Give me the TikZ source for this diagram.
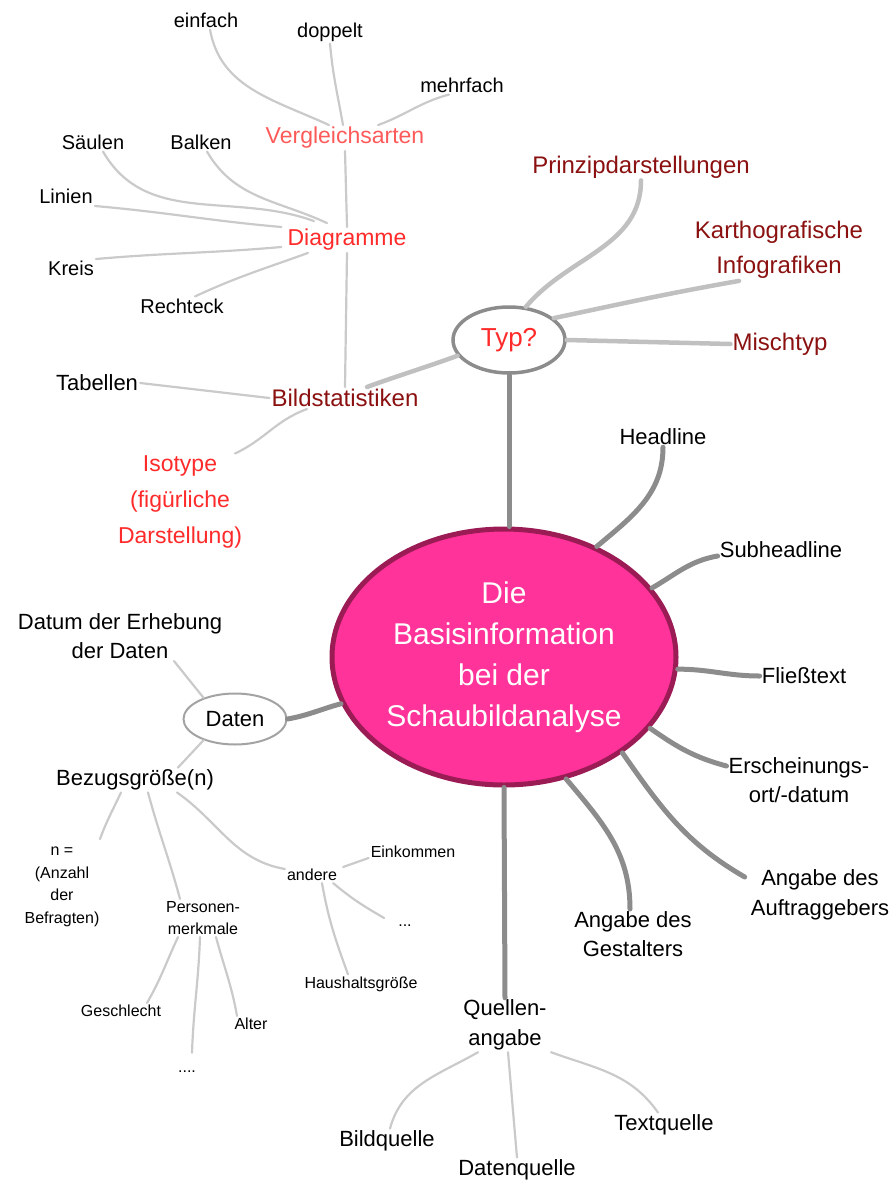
\documentclass[tikz,border=0pt]{standalone}
\usepackage{fontspec}
\setmainfont{Liberation Sans}
\usetikzlibrary{shapes.geometric}
\definecolor{dred}{HTML}{8B1111}
\definecolor{bred}{HTML}{FF2A2A}
\definecolor{lred}{HTML}{FF5A5A}
\definecolor{pinkf}{HTML}{FF3399}
\definecolor{pinkb}{HTML}{9B1B55}
\definecolor{gA}{HTML}{8C8C8C}
\definecolor{gB}{HTML}{C0C0C0}
\definecolor{gC}{HTML}{CACACA}
\begin{document}
\begin{tikzpicture}[x=1pt,y=1pt,
  lbl/.style={inner sep=2pt, align=center, text=black, font=\fontsize{22}{29.5}\selectfont},
  sm/.style={lbl, font=\fontsize{20}{25}\selectfont},
  xs/.style={lbl, font=\fontsize{16}{22.5}\selectfont},
  dots/.style={xs, text height=11pt, text depth=3pt},
  dredl/.style={lbl, text=dred, font=\fontsize{24}{35}\selectfont},
  redl/.style={lbl, text=bred, font=\fontsize{23}{36}\selectfont},
  lredl/.style={lbl, text=lred, font=\fontsize{23}{30}\selectfont},
  mainell/.style={ellipse, minimum width=344pt, minimum height=256pt, inner sep=0pt,
    fill=pinkf, draw=pinkb, line width=5pt, text=white, align=center,
    font=\fontsize{30}{41}\selectfont},
  typell/.style={ellipse, minimum width=112pt, minimum height=66pt, inner sep=0pt,
    fill=white, draw=gA, line width=3.5pt, text=bred, font=\fontsize{26}{30}\selectfont},
  datell/.style={ellipse, minimum width=103pt, minimum height=51pt, inner sep=0pt,
    fill=white, draw=gA!80, line width=2pt, text=black, font=\fontsize{22}{26}\selectfont},
  mainbr/.style={draw=gA, line width=5pt, line cap=round},
  typbr/.style={draw=gB, line width=4.5pt, line cap=round},
  twig/.style={draw=gC, line width=2.2pt, line cap=round},
]
\useasboundingbox (0,0) rectangle (890,-1186);

% ---------- connectors are drawn after nodes are defined (on background via order) ----------
% central nodes
\node[mainell] (main) at (504,-657) {Die\\Basisinformation\\bei der\\Schaubildanalyse};
\node[typell] (typ) at (509,-340) {Typ?};
\node[datell] (daten) at (235,-719) {Daten};

% right side
\node[lbl] (headline) at (663,-437) {Headline};
\node[lbl] (subhead) at (781,-550) {Subheadline};
\node[lbl] (fliess) at (804,-676) {Fließtext};
\node[lbl] (ersch) at (799,-780) {Erscheinungs-\\ort/-datum};
\node[lbl] (auftr) at (820,-895) {Angabe des\\Auftraggebers};
\node[lbl] (gestal) at (633,-934) {Angabe des\\Gestalters};
\node[lbl] (quellen) at (505,-1025) {Quellen-\\angabe};
\node[lbl] (bildq) at (387,-1141) {Bildquelle};
\node[lbl] (datenq) at (517,-1170) {Datenquelle};
\node[lbl] (textq) at (664,-1125) {Textquelle};

% top
\node[dredl] (prinzip) at (641,-167) {Prinzipdarstellungen};
\node[dredl] (karth) at (779,-250) {Karthografische\\Infografiken};
\node[dredl] (misch) at (780,-344) {Mischtyp};
\node[dredl] (bild) at (345,-398) {Bildstatistiken};
\node[lbl] (tab) at (97,-383) {Tabellen};
\node[redl] (iso) at (180,-502) {Isotype\\(figürliche\\Darstellung)};
\node[redl] (diag) at (347,-240) {Diagramme};
\node[lredl] (vergl) at (345,-138) {Vergleichsarten};
\node[sm] (einfach) at (206,-20) {einfach};
\node[sm] (doppelt) at (330,-32) {doppelt};
\node[sm] (mehr) at (462,-85) {mehrfach};
\node[sm] (saeulen) at (93,-142) {Säulen};
\node[sm] (balken) at (201,-142) {Balken};
\node[sm] (linien) at (66,-196) {Linien};
\node[sm] (kreis) at (71,-268) {Kreis};
\node[sm] (recht) at (182,-306) {Rechteck};

% bottom left
\node[lbl] (datum) at (120,-636) {Datum der Erhebung\\der Daten};
\node[lbl] (bezug) at (135,-780) {Bezugsgröße(n)};
\node[xs] (anz) at (62,-887) {n =\\(Anzahl\\der\\Befragten)};
\node[xs] (pers) at (203,-918) {Personen-\\merkmale};
\node[xs] (andere) at (312,-875) {andere};
\node[xs] (eink) at (413,-852) {Einkommen};
\node[dots] (dots1) at (405,-922) {...};
\node[xs] (haus) at (361,-984) {Haushaltsgröße};
\node[xs] (geschl) at (121,-1011) {Geschlecht};
\node[xs] (alter) at (251,-1024) {Alter};
\node[dots] (dots2) at (187,-1068) {....};

% ---------- main branches ----------
\draw[mainbr] (typ.south) -- (main.north -| typ.south);
\draw[mainbr] (main.50) to[out=40,in=-90] (headline.south);
\draw[mainbr] (main.25) to[out=30,in=190] ([yshift=-6]subhead.west);
\draw[mainbr] (main.-4) to[out=0,in=180] (fliess.west);
\draw[mainbr] (main.-26) to[out=-35,in=165] ([yshift=14]ersch.west);
\draw[mainbr] (main.-39) to[out=-55,in=150] ([xshift=-4,yshift=18]auftr.west);
\draw[mainbr] (main.-63) to[out=-50,in=90] ([xshift=-3]gestal.north);
\draw[mainbr] (main.south) -- (quellen.north);
\draw[mainbr] (main.196) to[out=195,in=10] (daten.east);

% ---------- Typ? branches ----------
\draw[typbr] (typ.63) to[out=50,in=-90] (prinzip.south);
\draw[typbr] (typ.26) to[out=12,in=190] ([xshift=-40]karth.south);
\draw[typbr] (typ.east) -- (misch.west);
\draw[typbr] (typ.197) to[out=200,in=20] ([xshift=22]bild.north);

% ---------- Bildstatistiken branches ----------
\draw[twig] (tab.east) -- (bild.west);
\draw[twig] ([xshift=-38]bild.south) to[out=200,in=25] ([xshift=55]iso.north);
\draw[twig] (bild.north) -- (diag.south);
\draw[twig] (diag.north) -- (vergl.south);

% ---------- Diagramme branches ----------
\draw[twig] ([xshift=10]saeulen.south) to[out=-60,in=160] ([xshift=-33,yshift=6]diag.north);
\draw[twig] ([xshift=6]balken.south) to[out=-60,in=155] ([xshift=-20,yshift=4]diag.north);
\draw[twig] ([yshift=-10]linien.east) to[out=-5,in=175] ([xshift=-4,yshift=13]diag.west);
\draw[twig] ([yshift=9]kreis.east) to[out=5,in=185] ([xshift=-4,yshift=-7]diag.west);
\draw[twig] ([xshift=13]recht.north) to[out=25,in=200] ([xshift=-39]diag.south);

% ---------- Vergleichsarten branches ----------
\draw[twig] ([xshift=4]einfach.south) to[out=-80,in=155] ([xshift=-16]vergl.north);
\draw[twig] (doppelt.south) to[out=-85,in=100] ([xshift=-2]vergl.north);
\draw[twig] ([xshift=-13]mehr.south) to[out=195,in=20] ([xshift=33]vergl.north);

% ---------- Daten branches ----------
\draw[twig] ([xshift=54]datum.south) -- (daten.146);
\draw[twig] (daten.214) -- ([xshift=43]bezug.north);

% ---------- Bezugsgroesse branches ----------
\draw[twig] ([xshift=-14]bezug.south) to[out=-115,in=70] ([xshift=38,yshift=6]anz.north);
\draw[twig] ([xshift=13]bezug.south) to[out=-75,in=105] ([xshift=-23]pers.north);
\draw[twig] ([xshift=42]bezug.south) to[out=-35,in=170] ([yshift=6]andere.west);

% ---------- Personenmerkmale branches ----------
\draw[twig] ([xshift=-25]pers.south) to[out=-115,in=60] ([xshift=26]geschl.north);
\draw[twig] ([xshift=-3]pers.south) to[out=-92,in=88] ([xshift=5,yshift=6]dots2.north);
\draw[twig] ([xshift=13]pers.south) to[out=-75,in=100] ([xshift=-14]alter.north);

% ---------- andere branches ----------
\draw[twig] ([xshift=4,yshift=8]andere.east) -- ([yshift=-6]eink.west);
\draw[twig] ([xshift=-6]andere.south east) to[out=-40,in=150] ([xshift=-12,yshift=4]dots1.west);
\draw[twig] ([xshift=10]andere.south) to[out=-80,in=110] ([xshift=-13]haus.north);

% ---------- Quellenangabe branches ----------
\draw[twig] ([xshift=-27]quellen.south) to[out=210,in=75] ([xshift=3]bildq.north);
\draw[twig] ([xshift=3]quellen.south) to[out=-85,in=95] (datenq.north);
\draw[twig] ([xshift=46]quellen.south) to[out=-20,in=125] ([xshift=-6]textq.north);
\end{tikzpicture}
\end{document}
